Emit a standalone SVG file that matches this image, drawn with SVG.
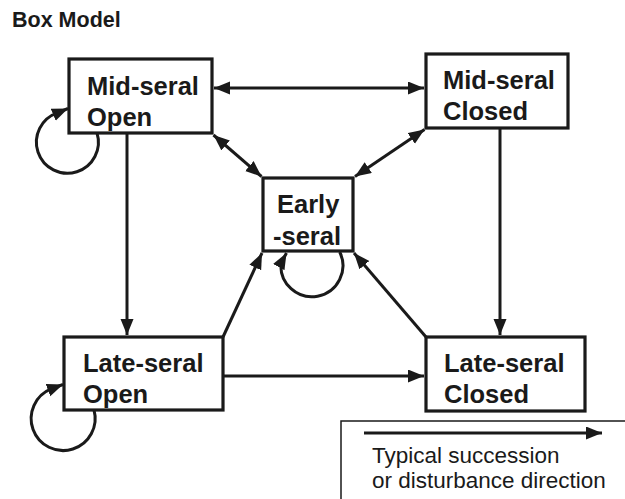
<svg xmlns="http://www.w3.org/2000/svg" width="625" height="499" viewBox="0 0 625 499">
<style>
.box{fill:#fff;stroke:#1a1a1a;stroke-width:3.2}
.lbl{font-family:"Liberation Sans",Arial,Helvetica,sans-serif;font-weight:bold;font-size:25.5px;fill:#1a1a1a}
.edge{fill:none;stroke:#1a1a1a;stroke-width:3}
.leg{font-family:"Liberation Sans",Arial,Helvetica,sans-serif;font-size:22.5px;fill:#1a1a1a}
</style>
<defs>
<marker id="ah" markerUnits="userSpaceOnUse" markerWidth="17" markerHeight="14" refX="16" refY="6.5" orient="auto-start-reverse">
<path d="M0,0 L16,6.5 L0,13 z" fill="#1a1a1a"/>
</marker>
</defs>
<rect width="625" height="499" fill="#fff"/>
<text x="12" y="27" font-family="Liberation Sans,Arial,sans-serif" font-weight="bold" font-size="21.5" fill="#1a1a1a">Box Model</text>

<g id="connectors">
<path class="edge" d="M214,88 L424,88" marker-start="url(#ah)" marker-end="url(#ah)"/>
<path class="edge" d="M213.5,135 L261.5,176.5" marker-start="url(#ah)" marker-end="url(#ah)"/>
<path class="edge" d="M424.5,129.5 L355,176.5" marker-start="url(#ah)" marker-end="url(#ah)"/>
<path class="edge" d="M127,133 L127,335" marker-end="url(#ah)"/>
<path class="edge" d="M500,128 L500,335" marker-end="url(#ah)"/>
<path class="edge" d="M223,337 L262,253" marker-end="url(#ah)"/>
<path class="edge" d="M426,337 L354,253" marker-end="url(#ah)"/>
<path class="edge" d="M223,376 L424,376" marker-end="url(#ah)"/>
<path class="edge" d="M97,133 A31,31 0 1 1 57.4,112.9 L68,108.5" marker-end="url(#ah)"/>
<path class="edge" d="M94,410 A32,32 0 1 1 51.1,388.9 L63,384.5" marker-end="url(#ah)"/>
<path class="edge" d="M339.7,252 A31,31 0 1 1 281,263 L286.5,253" marker-end="url(#ah)"/>
</g>

<g id="mid-seral-open">
<rect class="box" x="69" y="59" width="143" height="74"/>
<text class="lbl" x="87" y="95">Mid-seral</text>
<text class="lbl" x="87" y="126">Open</text>
</g>
<g id="mid-seral-closed">
<rect class="box" x="426" y="54" width="142" height="74"/>
<text class="lbl" x="443" y="89">Mid-seral</text>
<text class="lbl" x="443" y="120">Closed</text>
</g>
<g id="early-seral">
<rect class="box" x="263" y="178" width="90" height="73"/>
<text class="lbl" x="277" y="213">Early</text>
<text class="lbl" x="273" y="245">-seral</text>
</g>
<g id="late-seral-open">
<rect class="box" x="64" y="337" width="159" height="73"/>
<text class="lbl" x="83" y="372">Late-seral</text>
<text class="lbl" x="83" y="403">Open</text>
</g>
<g id="late-seral-closed">
<rect class="box" x="426" y="337" width="159" height="74"/>
<text class="lbl" x="444" y="372">Late-seral</text>
<text class="lbl" x="444" y="403">Closed</text>
</g>

<g id="legend">
<path d="M341,499 V421 H625" fill="none" stroke="#1a1a1a" stroke-width="1.5"/>
<path class="edge" d="M364,433 L602,433" marker-end="url(#ah)"/>
<text class="leg" x="372" y="463">Typical succession</text>
<text class="leg" x="372" y="488">or disturbance direction</text>
</g>
</svg>
